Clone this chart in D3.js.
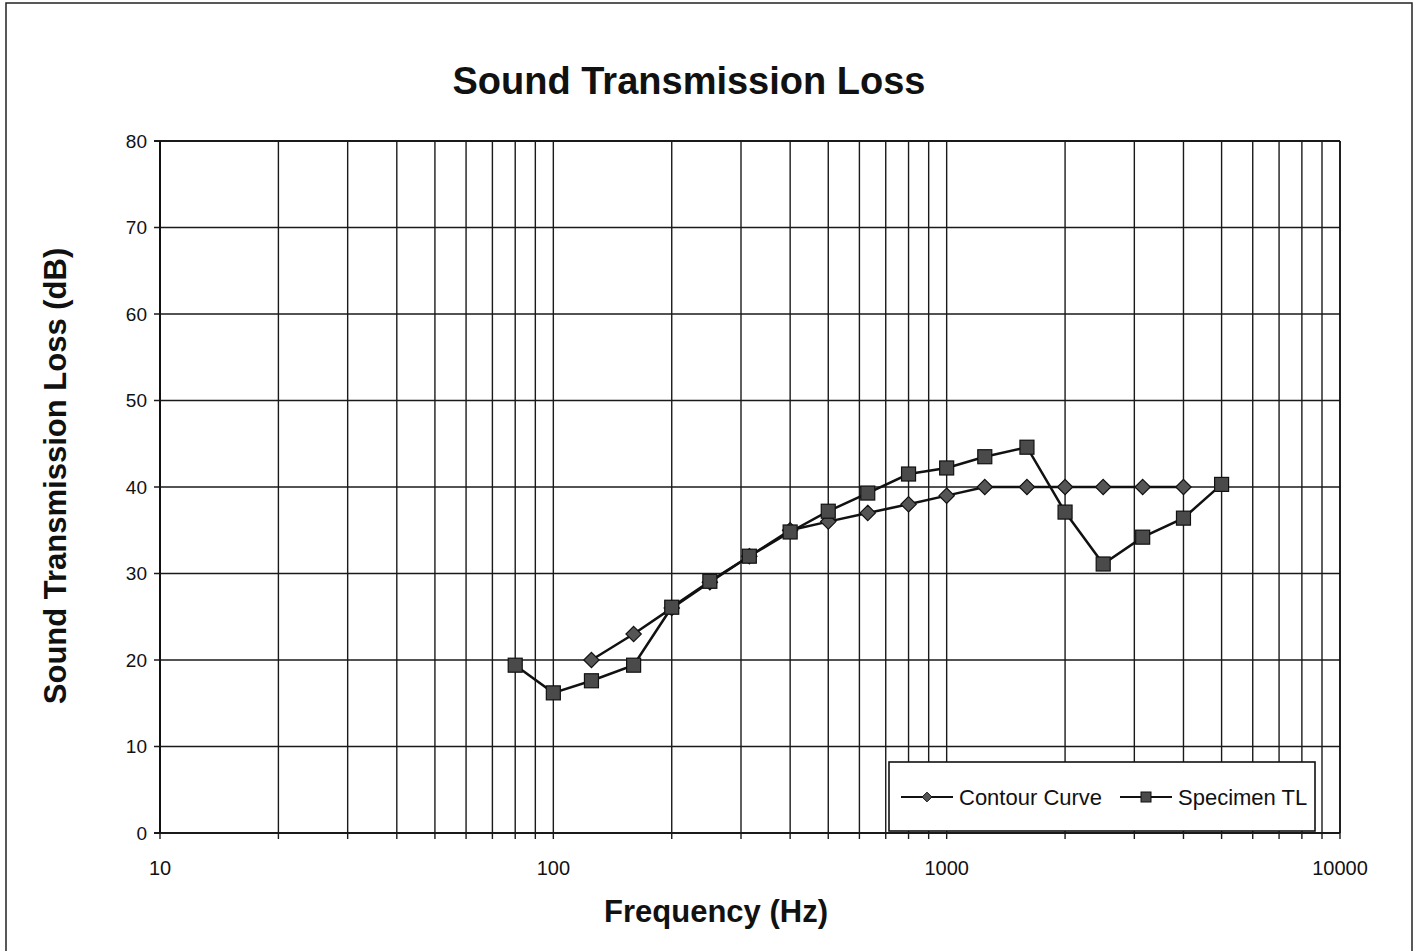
<!DOCTYPE html>
<html>
<head>
<meta charset="utf-8">
<script src="https://cdn.jsdelivr.net/npm/d3@7"></script>
<style>
  body { margin: 0; background: #fff; }
  text { font-family: Arial, "Liberation Sans", sans-serif; fill: #111; }
</style>
</head>
<body>
<div id="chart"></div>
<script>
'use strict';

// third octave band centre frequencies (Hz)
const freqs = [80, 100, 125, 160, 200, 250, 315, 400, 500, 630, 800, 1000, 1250, 1600, 2000, 2500, 3150, 4000, 5000];

// measured specimen TL (dB)
const specimenTL = [19.4, 16.2, 17.6, 19.4, 26.1, 29.1, 32.0, 34.8, 37.2, 39.3, 41.5, 42.2, 43.5, 44.6, 37.1, 31.1, 34.2, 36.4, 40.3];

// STC contour, 125 - 4000 Hz
const contourFreqs = [125, 160, 200, 250, 315, 400, 500, 630, 800, 1000, 1250, 1600, 2000, 2500, 3150, 4000];
const contourCurve = [20, 23, 26, 29, 32, 35, 36, 37, 38, 39, 40, 40, 40, 40, 40, 40];

const xTicks = [10, 100, 1000, 10000];
const yTicks = [0, 10, 20, 30, 40, 50, 60, 70, 80];
const seriesNames = ["Contour Curve", "Specimen TL"];

var W = 1422, H = 951;
var margin = {top: 141, right: 82, bottom: 118, left: 160},
width = W - margin.left - margin.right,
height = H - margin.top - margin.bottom;

var svg = d3.select("#chart").append("svg")
  .attr("width", W)
  .attr("height", H);

// page border
svg.append("rect")
  .attr("x", 6).attr("y", 3)
  .attr("width", 1406).attr("height", 960)
  .attr("fill", "none")
  .attr("stroke", "#222")
  .attr("stroke-width", 1.5);

var g = svg.append("g")
  .attr("transform", "translate(" + margin.left + "," + margin.top + ")");

var x = d3.scaleLog().domain([10, 10000]).range([0, width]);
var y = d3.scaleLinear().domain([0, 80]).range([height, 0]);

// vertical grid: every 1..9 of each decade
var minor = [];
for (var dec = 10; dec < 10000; dec *= 10) {
  for (var k = 1; k < 10; k++) minor.push(dec * k);
}
minor.push(10000);

g.selectAll("line.vgrid")
  .data(minor)
  .enter().append("line")
  .attr("class", "vgrid")
  .attr("x1", function(d) { return x(d); })
  .attr("x2", function(d) { return x(d); })
  .attr("y1", 0)
  .attr("y2", height + 6)
  .attr("stroke", "#1a1a1a")
  .attr("stroke-width", 1.4);

// horizontal grid
g.selectAll("line.hgrid")
  .data(yTicks)
  .enter().append("line")
  .attr("class", "hgrid")
  .attr("x1", -6)
  .attr("x2", width)
  .attr("y1", function(d) { return y(d); })
  .attr("y2", function(d) { return y(d); })
  .attr("stroke", "#1a1a1a")
  .attr("stroke-width", function(d) { return d === 0 || d === 80 ? 2 : 1.4; });

// axes frame
g.append("line").attr("x1", 0).attr("x2", 0).attr("y1", 0).attr("y2", height)
  .attr("stroke", "#111").attr("stroke-width", 2);
g.append("line").attr("x1", width).attr("x2", width).attr("y1", 0).attr("y2", height)
  .attr("stroke", "#111").attr("stroke-width", 1.6);

// tick labels
g.selectAll("text.ylab")
  .data(yTicks)
  .enter().append("text")
  .attr("class", "ylab")
  .attr("x", -13)
  .attr("y", function(d) { return y(d); })
  .attr("dy", "0.35em")
  .attr("text-anchor", "end")
  .style("font-size", "19px")
  .text(function(d) { return d; });

g.selectAll("text.xlab")
  .data(xTicks)
  .enter().append("text")
  .attr("class", "xlab")
  .attr("x", function(d) { return x(d); })
  .attr("y", height + 42)
  .attr("text-anchor", "middle")
  .style("font-size", "20px")
  .text(function(d) { return d; });

// titles
svg.append("text")
  .attr("x", 689).attr("y", 94)
  .attr("text-anchor", "middle")
  .style("font-size", "38px").style("font-weight", "bold")
  .text("Sound Transmission Loss");

svg.append("text")
  .attr("x", 716).attr("y", 922)
  .attr("text-anchor", "middle")
  .style("font-size", "31px").style("font-weight", "bold")
  .text("Frequency (Hz)");

svg.append("text")
  .attr("transform", "translate(66,476) rotate(-90)")
  .attr("text-anchor", "middle")
  .style("font-size", "31px").style("font-weight", "bold")
  .text("Sound Transmission Loss (dB)");

// ****************** series ***************************
var line = d3.line()
  .x(function(d) { return x(d[0]); })
  .y(function(d) { return y(d[1]); });

var contourData = contourFreqs.map(function(f, i) { return [f, contourCurve[i]]; });
var specData = freqs.map(function(f, i) { return [f, specimenTL[i]]; });

g.append("path")
  .datum(contourData)
  .attr("d", line)
  .attr("fill", "none")
  .attr("stroke", "#111")
  .attr("stroke-width", 2.5);

g.append("path")
  .datum(specData)
  .attr("d", line)
  .attr("fill", "none")
  .attr("stroke", "#111")
  .attr("stroke-width", 2.5);

var diamond = d3.symbol().type(d3.symbolDiamond2).size(150);

g.selectAll("path.dia")
  .data(contourData)
  .enter().append("path")
  .attr("class", "dia")
  .attr("d", diamond)
  .attr("transform", function(d) { return "translate(" + x(d[0]) + "," + y(d[1]) + ")"; })
  .attr("fill", "#555")
  .attr("stroke", "#111")
  .attr("stroke-width", 1.2);

g.selectAll("rect.sq")
  .data(specData)
  .enter().append("rect")
  .attr("class", "sq")
  .attr("x", function(d) { return x(d[0]) - 7; })
  .attr("y", function(d) { return y(d[1]) - 7; })
  .attr("width", 14).attr("height", 14)
  .attr("fill", "#4a4a4a")
  .attr("stroke", "#111")
  .attr("stroke-width", 1.2);

// ****************** legend ***************************
var leg = svg.append("g").attr("transform", "translate(889,762)");
leg.append("rect")
  .attr("width", 426).attr("height", 69)
  .attr("fill", "#fff")
  .attr("stroke", "#111")
  .attr("stroke-width", 1.6);

var items = leg.selectAll("g.item")
  .data(seriesNames)
  .enter().append("g")
  .attr("class", "item")
  .attr("transform", function(d, i) { return "translate(" + (i === 0 ? 12 : 231) + ",35)"; });

items.append("line")
  .attr("x1", 0).attr("x2", 52)
  .attr("stroke", "#111").attr("stroke-width", 2);

items.each(function(d, i) {
  var it = d3.select(this);
  if (i === 0) {
    it.append("path")
      .attr("d", d3.symbol().type(d3.symbolDiamond2).size(60))
      .attr("transform", "translate(26,0)")
      .attr("fill", "#555").attr("stroke", "#111");
  } else {
    it.append("rect")
      .attr("x", 21).attr("y", -5).attr("width", 10).attr("height", 10)
      .attr("fill", "#4a4a4a").attr("stroke", "#111");
  }
});

items.append("text")
  .attr("x", 58)
  .attr("dy", "0.35em")
  .style("font-size", "22px")
  .text(function(d) { return d; });
</script>
</body>
</html>
